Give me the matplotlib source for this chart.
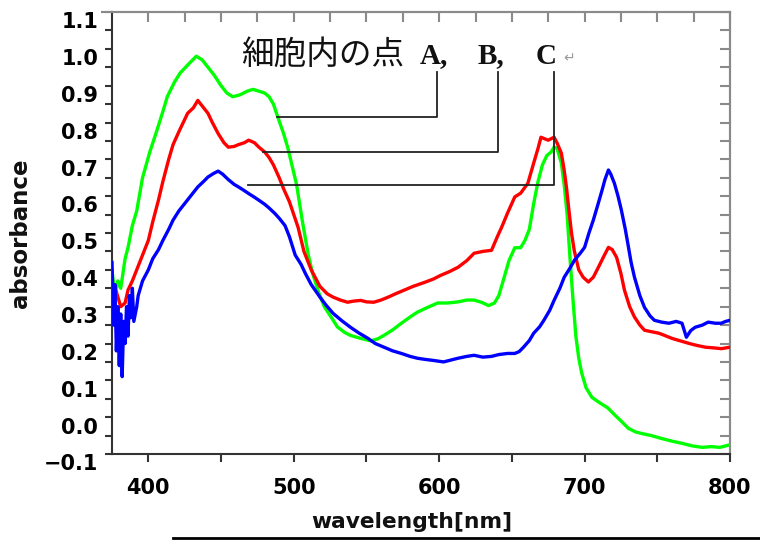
import numpy as np
import matplotlib
matplotlib.use("Agg")
import matplotlib.pyplot as plt
from matplotlib.lines import Line2D
from matplotlib.transforms import ScaledTranslation
from matplotlib.ticker import FuncFormatter

# ---------------- data ----------------
wl_a = [375, 377, 379, 381, 384, 386, 389, 392, 396, 401, 406, 410, 413, 418, 422, 428, 433, 437,
        441, 445, 450, 454, 458, 463, 468, 472, 476, 480, 483, 486, 489, 493, 496, 499, 502, 506,
        510, 513, 517, 521, 526, 530, 535, 539, 545, 553, 558, 562, 568, 574, 580, 585, 592, 599,
        606, 613, 619, 624, 629, 634, 638, 641, 644, 648, 652, 656, 659, 662, 665, 668, 671, 674,
        677, 679, 681, 684, 686, 688, 690, 692, 694, 696, 698, 701, 705, 710, 716, 721, 725, 730,
        735, 740, 746, 753, 760, 767, 774, 781, 787, 793, 800]
abs_a = [0.40, 0.33, 0.37, 0.35, 0.43, 0.46, 0.52, 0.56, 0.65, 0.72, 0.78, 0.83, 0.87, 0.91, 0.935,
         0.96, 0.98, 0.97, 0.95, 0.93, 0.90, 0.88, 0.87, 0.875, 0.885, 0.89, 0.885, 0.88, 0.87, 0.85,
         0.815, 0.77, 0.73, 0.68, 0.63, 0.53, 0.44, 0.39, 0.34, 0.30, 0.27, 0.245, 0.23, 0.222,
         0.215, 0.207, 0.213, 0.222, 0.237, 0.255, 0.272, 0.285, 0.298, 0.31, 0.31, 0.313, 0.318,
         0.318, 0.312, 0.303, 0.31, 0.33, 0.37, 0.425, 0.46, 0.46, 0.48, 0.51, 0.58, 0.64, 0.685,
         0.71, 0.72, 0.733, 0.73, 0.69, 0.63, 0.55, 0.43, 0.32, 0.22, 0.16, 0.12, 0.08, 0.054, 0.04,
         0.025, 0.005, -0.01, -0.03, -0.04, -0.045, -0.05, -0.058, -0.065, -0.071, -0.078, -0.082,
         -0.08, -0.082, -0.075]

wl_b = [378, 381, 384, 386, 389, 393, 397, 400, 403, 407, 410, 414, 417, 421, 424, 427, 431, 434,
        437, 441, 444, 448, 452, 455, 459, 462, 466, 469, 473, 476, 480, 483, 486, 490, 493, 497,
        500, 503, 507, 512, 518, 523, 527, 532, 537, 541, 546, 550, 555, 560, 565, 570, 576, 582,
        590, 596, 601, 607, 613, 619, 624, 630, 636, 640, 643, 647, 652, 656, 661, 665, 668, 670,
        673, 675, 679, 681, 684, 686, 687.5, 689, 691, 693, 696, 699, 702.6, 706, 709.5, 713,
        716.4, 719, 722, 725, 727.4, 731, 734.3, 738, 741.2, 746, 751, 755, 760, 766, 772, 777,
        783, 789, 794, 800]
abs_b = [0.34, 0.30, 0.31, 0.345, 0.37, 0.41, 0.45, 0.48, 0.53, 0.59, 0.64, 0.70, 0.74, 0.775,
         0.80, 0.825, 0.84, 0.86, 0.845, 0.825, 0.80, 0.77, 0.745, 0.733, 0.735, 0.74, 0.745,
         0.752, 0.745, 0.733, 0.72, 0.705, 0.685, 0.65, 0.62, 0.585, 0.55, 0.515, 0.45, 0.40,
         0.355, 0.335, 0.326, 0.318, 0.312, 0.315, 0.317, 0.313, 0.312, 0.318, 0.326, 0.335,
         0.345, 0.355, 0.366, 0.375, 0.385, 0.395, 0.407, 0.425, 0.445, 0.45, 0.453, 0.49, 0.516,
         0.554, 0.598, 0.608, 0.635, 0.69, 0.73, 0.76, 0.755, 0.752, 0.76, 0.745, 0.717, 0.67,
         0.625, 0.57, 0.50, 0.45, 0.40, 0.38, 0.367, 0.38, 0.407, 0.435, 0.461, 0.455, 0.434,
         0.39, 0.345, 0.30, 0.272, 0.25, 0.236, 0.232, 0.228, 0.222, 0.214, 0.207, 0.20, 0.195,
         0.19, 0.188, 0.186, 0.19]

wl_c = [375, 376, 377, 378, 379, 380, 381, 382, 383, 384, 385, 386, 387, 388, 389, 390, 392, 393,
        396, 400, 403, 407, 410, 414, 417, 421, 424, 427, 431, 434, 438, 441, 445, 448, 451, 455,
        459, 462, 466, 469, 473, 476, 480, 483, 487, 490, 494, 497, 501, 505, 508, 512, 518, 522,
        527, 533, 539, 545, 551, 556, 562, 568, 574, 580, 585, 590, 596, 603, 608, 613, 619, 624,
        630, 636, 641, 647, 652, 655, 658, 662, 665, 669, 672, 676, 679, 683, 686, 690, 693, 697,
        700, 703, 706, 709, 712, 714, 716.4, 718, 720.5, 723, 725.3, 728, 730.2, 732, 734.3, 738,
        741.2, 745, 748, 753, 758, 763, 767, 770, 773, 776, 781, 785, 790, 794, 797, 800]
abs_c = [0.42, 0.25, 0.36, 0.18, 0.30, 0.14, 0.28, 0.11, 0.26, 0.20, 0.30, 0.22, 0.33, 0.27, 0.35,
         0.26, 0.30, 0.33, 0.37, 0.40, 0.43, 0.455, 0.48, 0.51, 0.535, 0.56, 0.575, 0.59, 0.61,
         0.625, 0.64, 0.652, 0.662, 0.668, 0.66, 0.645, 0.632, 0.625, 0.615, 0.607, 0.597, 0.589,
         0.578, 0.568, 0.553, 0.54, 0.52, 0.49, 0.44, 0.415, 0.39, 0.36, 0.326, 0.305, 0.282,
         0.262, 0.244, 0.228, 0.214, 0.20, 0.19, 0.18, 0.173, 0.165, 0.16, 0.157, 0.154, 0.15,
         0.155, 0.16, 0.165, 0.168, 0.163, 0.165, 0.17, 0.173, 0.173, 0.178, 0.19, 0.208, 0.228,
         0.245, 0.263, 0.29, 0.317, 0.35, 0.38, 0.405, 0.426, 0.445, 0.461, 0.50, 0.535, 0.575,
         0.616, 0.645, 0.671, 0.66, 0.635, 0.60, 0.562, 0.51, 0.461, 0.42, 0.38, 0.33, 0.298,
         0.275, 0.263, 0.258, 0.255, 0.26, 0.255, 0.217, 0.235, 0.244, 0.25, 0.258, 0.255, 0.255,
         0.26, 0.263]

x_ticks = [400, 500, 600, 700, 800]
y_ticks = [-0.1, 0.0, 0.1, 0.2, 0.3, 0.4, 0.5, 0.6, 0.7, 0.8, 0.9, 1.0, 1.1]

W, H = 760, 541
fig = plt.figure(figsize=(W / 100, H / 100), dpi=100)
fig.patch.set_facecolor("white")
ax = fig.add_axes([112 / W, 87 / H, 618 / W, 442 / H])

lw = 2.4
ax.plot(wl_a, abs_a, color="#00ff00", lw=lw, zorder=3)
ax.plot(wl_b, abs_b, color="#ff0000", lw=lw, zorder=4)
ax.plot(wl_c, abs_c, color="#0000ff", lw=lw, zorder=5)

ax.set_xlim(375, 800)
ax.set_ylim(-0.1, 1.1)

dark = "#333333"
grey = "#8a8a8a"
for s in ["left", "bottom"]:
    ax.spines[s].set_color(dark)
    ax.spines[s].set_linewidth(1.5)
for s in ["top", "right"]:
    ax.spines[s].set_color(grey)
    ax.spines[s].set_linewidth(1.5)

ax.set_xticks(x_ticks)
ax.set_xticks(np.arange(450, 800, 100), minor=True)
ax.set_yticks(y_ticks)
ax.set_yticks(np.arange(-0.05, 1.1, 0.1), minor=True)
ax.yaxis.set_major_formatter(FuncFormatter(lambda v, p: f"{v:.1f}".replace("-", "\u2212")))

ax.tick_params(axis="x", which="both", direction="out", length=6, width=1.5, color=dark,
               labelsize=15, pad=11)
ax.tick_params(axis="y", which="both", direction="out", length=5, width=1.5, color=dark,
               labelsize=15, pad=5)
for lab in ax.get_xticklabels() + ax.get_yticklabels():
    lab.set_fontweight("bold")
    lab.set_fontfamily("DejaVu Sans")
for lab in ax.get_yticklabels():
    lab.set_transform(lab.get_transform() + ScaledTranslation(0, -6 / 72, fig.dpi_scale_trans))

# top & right inward ticks
top = ax.secondary_xaxis("top")
top.set_xticks(np.arange(400, 801, 25))
top.set_xticklabels([])
top.tick_params(direction="in", length=7, width=1.5, color=grey)
top.spines["top"].set_color(grey)
top.spines["top"].set_linewidth(1.5)
right = ax.secondary_yaxis("right")
right.set_yticks(np.arange(-0.1, 1.101, 0.05))
right.set_yticklabels([])
right.tick_params(direction="in", length=7, width=1.5, color=grey)
right.spines["right"].set_color(grey)
right.spines["right"].set_linewidth(1.5)

# axis labels
fig.text(21 / W, 1 - 233 / H, "absorbance", rotation=90, ha="center", va="center",
         fontsize=16.5, fontweight="bold", family="DejaVu Sans", color="#111111")
fig.text(412 / W, 1 - 522 / H, "wavelength[nm]", ha="center", va="center",
         fontsize=15.7, fontweight="bold", family="DejaVu Sans", color="#111111")

# annotation text
ty = 1 - 55 / H
fig.text(241 / W, ty, "細胞内の点", ha="left", va="center", fontsize=23.5,
         family=["Noto Sans CJK JP", "DejaVu Sans"], color="#111111")
for px, s in [(420, "A,"), (478, "B,"), (536, "C")]:
    fig.text(px / W, 1 - 56 / H, s, ha="left", va="center", fontsize=21, fontweight="bold",
             family="Liberation Serif", color="#111111")
fig.text(563 / W, 1 - 58 / H, "\u21b5", ha="left", va="center", fontsize=10,
         family="DejaVu Sans", color="#999999")

# leader lines (data coordinates)
lead = dict(color="#222222", lw=1.3, clip_on=False, zorder=6)
ax.plot([598.4, 598.4, 488.8], [0.937, 0.815, 0.815], **lead)
ax.plot([640.5, 640.5, 479.1], [0.937, 0.720, 0.720], **lead)
ax.plot([679.1, 679.1, 468.8], [0.937, 0.630, 0.630], **lead)

# frame decorations
fig.add_artist(Line2D([102 / W, 112 / W], [1 - 12 / H, 1 - 12 / H], color=grey, lw=1.5))
fig.add_artist(Line2D([173 / W, 1.0], [1 - 538 / H, 1 - 538 / H], color="black", lw=2))

fig.savefig("out.png", dpi=100, facecolor="white")
